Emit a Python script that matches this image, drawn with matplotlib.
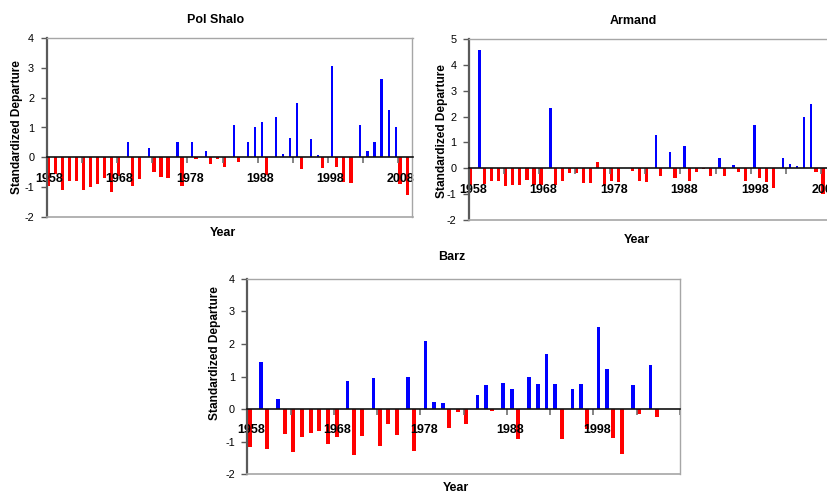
import matplotlib
matplotlib.use('Agg')
import matplotlib.pyplot as plt
import numpy as np

plt.rcParams['font.family'] = ['Liberation Sans', 'DejaVu Sans']
plt.rcParams['axes.unicode_minus'] = False

# ---------------- data ----------------
pol_start = 1958
pol_red = [
    -0.95, -0.55, -1.09, -0.79, -0.79, -1.09, -0.98, -0.88, -0.68, -1.15,
    -0.62, None, -0.95, -0.71, None, -0.49, -0.64, -0.69, None, -0.95,
    None, -0.05, None, -0.22, -0.05, -0.32, None, -0.16, None, None,
    None, -0.60, None, None, None, None, -0.40, None, None, -0.35,
    None, -0.32, -0.82, -0.85, None, None, None, None, None, None,
    -0.89, -1.25]
pol_blue = [
    None, None, None, None, None, None, None, None, None, None,
    None, 0.53, None, None, 0.33, None, None, None, 0.53, None,
    0.50, None, 0.20, None, None, None, 1.10, None, 0.53, 1.03,
    1.20, None, 1.36, 0.13, 0.66, 1.83, None, 0.60, 0.08, None,
    3.06, None, None, None, 1.10, 0.20, 0.53, 2.63, 1.60, 1.03,
    None, None]

arm_start = 1958
arm_red = [
    -0.65, None, -0.60, -0.48, -0.48, -0.70, -0.63, -0.63, -0.44, -0.65,
    -0.63, None, -0.63, -0.51, -0.19, -0.19, -0.58, -0.58, 0.26, -0.69,
    -0.48, -0.54, None, -0.12, -0.48, -0.54, None, -0.31, None, -0.39,
    None, -0.51, -0.15, -0.02, -0.31, None, -0.31, None, -0.15, -0.51,
    None, -0.39, -0.54, -0.77, None, None, None, None, None, -0.15,
    -1.00]
arm_blue = [
    None, 4.58, None, None, None, None, None, None, None, None,
    None, 2.34, None, None, None, None, None, None, None, None,
    None, None, None, None, None, None, 1.30, None, 0.64, None,
    0.85, None, None, None, None, 0.41, None, 0.11, None, None,
    1.68, None, None, None, 0.41, 0.18, 0.07, 1.99, 2.49, None,
    None]

barz_start = 1958
barz_red = [
    -1.16, None, -1.21, None, -0.76, -1.31, -0.85, -0.73, -0.67, -1.06,
    -0.85, None, -1.40, -0.82, None, -1.13, -0.46, -0.79, None, -1.28,
    None, None, None, -0.58, -0.09, -0.46, None, None, -0.06, None,
    None, -0.92, None, None, None, None, -0.92, None, None, -0.62,
    None, None, -0.89, -1.37, None, -0.15, None, -0.24, None, None]
barz_blue = [
    None, 1.46, None, 0.30, None, None, None, None, None, None,
    None, 0.87, None, None, 0.94, None, None, None, 1.00, None,
    2.10, 0.23, 0.20, None, None, None, 0.42, 0.75, None, 0.81,
    0.63, None, 0.97, 0.78, 1.70, 0.78, None, 0.63, 0.78, None,
    2.52, 1.24, None, None, 0.75, None, 1.36, None, None, None]

titles = ["Pol Shalo", "Armand", "Barz"]
ylabel = "Standardized Departure"
xlabel = "Year"

# ---------------- figure ----------------
W, H = 828, 494
fig = plt.figure(figsize=(W / 100, H / 100), dpi=100)

RED = '#FF0000'
BLUE = '#0000FF'
BORDER = '#a6a6a6'
AXIS = '#5a5a5a'


def fx(px):
    return px / W


def fy(py):
    return 1 - py / H


def panel(left, top, right, bottom, start, red, blue, ncat, ylim,
          red_c, red_w, blue_c, blue_w, lab_off):
    ax = fig.add_axes([fx(left), fy(bottom), fx(right - left), (bottom - top) / H])
    xr = [i + red_c for i, v in enumerate(red) if v is not None]
    vr = [v for v in red if v is not None]
    xb = [i + blue_c for i, v in enumerate(blue) if v is not None]
    vb = [v for v in blue if v is not None]
    ax.bar(xr, vr, width=red_w, color=RED, linewidth=0, zorder=1)
    ax.bar(xb, vb, width=blue_w, color=BLUE, linewidth=0, zorder=1)
    ax.set_xlim(0, ncat)
    ax.set_ylim(*ylim)

    # frame
    for s in ['top', 'right']:
        ax.spines[s].set_color(BORDER)
        ax.spines[s].set_linewidth(1.0)
    ax.spines['left'].set_color(AXIS)
    ax.spines['left'].set_linewidth(1.6)
    ax.spines['bottom'].set_position(('data', 0))
    ax.spines['bottom'].set_color('#111111')
    ax.spines['bottom'].set_linewidth(1.2)
    ax.plot([0, ncat], [ylim[0], ylim[0]], color=BORDER, lw=1.2,
            clip_on=False, zorder=3)

    # y axis
    ax.set_yticks(range(ylim[0], ylim[1] + 1))
    ax.tick_params(axis='y', direction='out', length=4, width=1.0,
                   color=AXIS, labelsize=7.8, pad=5)

    # x axis: minor = tick marks every 5 categories, major = labels
    ax.set_xticks(range(0, ncat + 1, 5), minor=True)
    lab_pos = [k + lab_off for k in range(0, ncat, 10)]
    ax.set_xticks(lab_pos)
    ax.set_xticklabels([str(start + k) for k in range(0, ncat, 10)],
                       fontweight='bold', fontsize=9)
    ax.tick_params(axis='x', which='major', length=0, pad=11)
    ax.tick_params(axis='x', which='minor', direction='out', length=4,
                   width=1.2, color='#707070')
    return ax


# Pol Shalo
panel(46.7, 37.7, 412.5, 217.3, pol_start, pol_red, pol_blue, 52, (-2, 4),
      0.24, 0.47, 0.60, 0.30, 0.35)
# Armand (runs past the right edge of the image)
panel(469.0, 39.0, 469.0 + 52 * 7.05, 220.0, arm_start, arm_red, arm_blue, 52, (-2, 5),
      0.22, 0.45, 0.52, 0.38, 0.55)
# Barz
panel(247.3, 278.7, 680.0, 474.3, barz_start, barz_red, barz_blue, 50, (-2, 4),
      0.31, 0.46, 0.58, 0.42, 0.40)

# titles and axis labels
tkw = dict(fontsize=9, fontweight='bold', ha='center', va='center')
fig.text(fx(215.7), fy(20), titles[0], **tkw)
fig.text(fx(633.5), fy(20.7), titles[1], **tkw)
fig.text(fx(452), fy(257), titles[2], **tkw)

fig.text(fx(222.5), fy(233), xlabel, **tkw)
fig.text(fx(637), fy(240), xlabel, **tkw)
fig.text(fx(456), fy(488), xlabel, **tkw)

ykw = dict(fontsize=8.6, fontweight='bold', ha='center', va='center', rotation=90)
fig.text(fx(17), fy(127.5), ylabel, **ykw)
fig.text(fx(442), fy(131), ylabel, **ykw)
fig.text(fx(215), fy(353), ylabel, **ykw)

fig.savefig('out.png', dpi=100)
